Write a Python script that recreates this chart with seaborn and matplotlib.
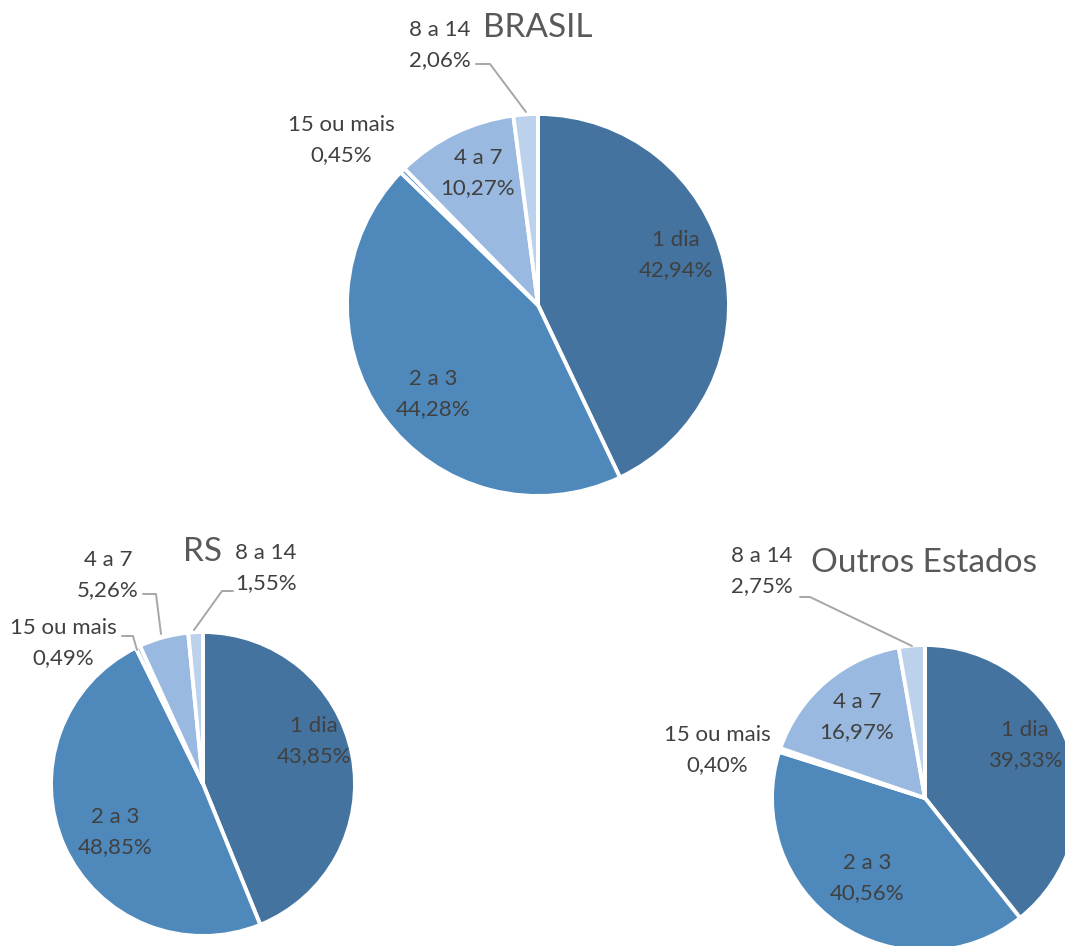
import matplotlib
matplotlib.use("Agg")
import matplotlib.pyplot as plt
import seaborn as sns

# --- data ---
categories = ["1 dia", "2 a 3", "15 ou mais", "4 a 7", "8 a 14"]
brasil = [42.94, 44.28, 0.45, 10.27, 2.06]
rs = [43.85, 48.85, 0.49, 5.26, 1.55]
outros = [39.33, 40.56, 0.40, 16.97, 2.75]
titles = ["BRASIL", "RS", "Outros Estados"]

colors = ["#44739f", "#4f89bc", "#5b9bd5", "#99b9e0", "#bcd1eb"]
TEXT = "#404040"
LINE = "#a6a6a6"

sns.set_theme(style="white")
plt.rcParams["font.family"] = ["Lato", "DejaVu Sans"]

W, H = 1065, 946
fig = plt.figure(figsize=(W / 100, H / 100), dpi=100)
ax = fig.add_axes([0, 0, 1, 1])
ax.set_xlim(0, W)
ax.set_ylim(0, H)
ax.set_aspect("equal")
ax.axis("off")


def fmt(v):
    return f"{v:.2f}".replace(".", ",") + "%"


# pie layout in pixel coords (y from top)
pies = [
    dict(values=brasil, center=(538, 305), r=191, title=titles[0], title_xy=(538, 28),
         labels={0: (676, 255), 1: (433, 394), 2: (341, 140), 3: (478, 173), 4: (440, 45)},
         lines=[[(476, 64), (490, 64), (526, 112)]]),
    dict(values=rs, center=(203, 784), r=152, title=titles[1], title_xy=(203, 552),
         labels={0: (314, 741), 1: (115, 832), 2: (63, 643), 3: (108, 575), 4: (266, 568)},
         lines=[[(143, 594), (156, 594), (161, 634)],
                [(233, 591), (222, 591), (194, 630)],
                [(122, 636), (133, 636), (137, 650)]]),
    dict(values=outros, center=(925, 798), r=153, title=titles[2], title_xy=(924, 563),
         labels={0: (1025, 745), 1: (867, 878), 2: (717, 750), 3: (857, 717), 4: (762, 571)},
         lines=[[(800, 597), (810, 597), (912, 646)]]),
]

for p in pies:
    cx, cy = p["center"]
    ax.pie(p["values"], colors=colors, startangle=90, counterclock=False,
           center=(cx, H - cy), radius=p["r"],
           wedgeprops=dict(edgecolor="white", linewidth=2.8), frame=True)
    ax.text(p["title_xy"][0], H - p["title_xy"][1], p["title"], fontsize=24,
            color="#595959", ha="center", va="center")
    for i, (lx, ly) in p["labels"].items():
        ax.text(lx, H - ly, f"{categories[i]}\n{fmt(p['values'][i])}", fontsize=16,
                color=TEXT, ha="center", va="center", linespacing=1.6)
    for ln in p["lines"]:
        xs = [q[0] for q in ln]
        ys = [H - q[1] for q in ln]
        ax.plot(xs, ys, color=LINE, linewidth=1.4)

ax.set_xlim(0, W)
ax.set_ylim(0, H)
ax.axis("off")
fig.savefig("out.png", dpi=100)
